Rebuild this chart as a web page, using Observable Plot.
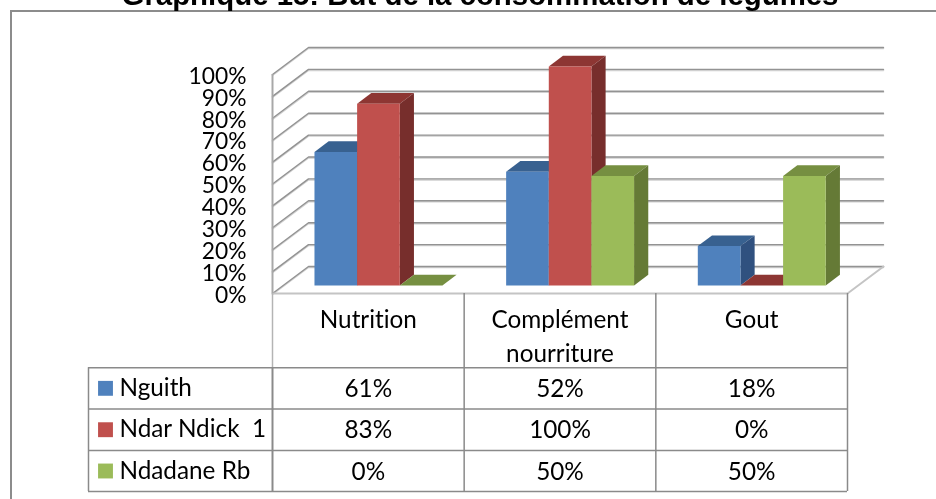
<!DOCTYPE html>
<html lang="fr">
<head>
<meta charset="utf-8">
<title>Graphique 15</title>
<script src="https://cdn.jsdelivr.net/npm/d3@7"></script>
<script src="https://cdn.jsdelivr.net/npm/@observablehq/plot@0.6"></script>
<style>
html,body{margin:0;padding:0;background:#fff;overflow:hidden;width:936px;height:499px}
#wrap{position:relative;width:936px;height:499px;overflow:hidden;filter:blur(.45px)}
#chart-title{position:absolute;left:0;width:960px;text-align:center;top:-21px;
  font:bold 29.4px/32px "Liberation Sans",Arial,sans-serif;color:#000;white-space:nowrap}
#frame{position:absolute;left:10px;top:10px;right:-4px;bottom:-4px;border-left:2px solid #8c8c8c;border-top:2px solid #8c8c8c}
svg{position:absolute;left:0;top:0;background:transparent!important}
svg text{white-space:pre;font-variant-ligatures:none}
</style>
</head>
<body>
<div id="wrap">
<div id="frame"></div>
<div id="chart-title">Graphique 15: But de la consommation de légumes</div>
</div>
<script>
const categories = ["Nutrition", "Complément\nnourriture", "Gout"];
const seriesNames = ["Nguith", "Ndar Ndick  1", "Ndadane Rb"];
const nguith = [61, 52, 18];
const ndarNdick = [83, 100, 0];
const ndadane = [0, 50, 50];
const yTicks = [0, 10, 20, 30, 40, 50, 60, 70, 80, 90, 100];
const frontColors = ["#4f81bd", "#c0504d", "#9bbb59"];
const topColors = ["#386190", "#8d3633", "#768f41"];
const sideColors = ["#30517f", "#772e2c", "#657a36"];

const seriesValues = [nguith, ndarNdick, ndadane];

// Oblique projection: depth 0 is the front of the floor, depth 1 the back wall.
const DX = 36 / 191.67, DY = 27 / 2.19;
const P = (x, v, d) => ({x: x + d * DX, y: v + d * DY});

const grid = [];
yTicks.forEach(v => {
  [[0, 0], [0, 1], [3, 1]].forEach(([x, d]) => grid.push({...P(x, v, d), id: v}));
});
const floorEdge = [[0, 0], [3, 0], [3, 1]].map(([x, d]) => P(x, 0, d));

const d0 = 0.296, d1 = 0.69, groupStart = 0.1634, barWidth = 0.2225;
const faces = [];
const face = (id, fill, pts) => pts.forEach(p => faces.push({...p, id, fill}));
categories.forEach((_, c) => {
  seriesValues.forEach((vals, s) => {
    const v = vals[c], a = c + groupStart + s * barWidth, b = a + barWidth;
    face(`t${c}${s}`, topColors[s], [P(a, v, d0), P(b, v, d0), P(b, v, d1), P(a, v, d1)]);
    if (v > 0) {
      face(`s${c}${s}`, sideColors[s], [P(b, 0, d0), P(b, v, d0), P(b, v, d1), P(b, 0, d1)]);
      face(`f${c}${s}`, frontColors[s], [P(a, 0, d0), P(b, 0, d0), P(b, v, d0), P(a, v, d0)]);
    }
  });
});

// Data table under the chart, in the same scale units.
const legendLeft = -0.96;
const rowEdges = [0, -33.9, -52.7, -71.7, -90.4];
const colEdges = [0, 1, 2, 3];
const rowMid = r => (rowEdges[r + 1] + rowEdges[r + 2]) / 2;
const cellData = seriesValues.flatMap((vals, r) => vals.map((v, c) => ({x: c + 0.5, y: rowMid(r), t: `${v}%`})));
const legendData = seriesNames.map((name, r) => ({name, y: rowMid(r), fill: frontColors[r]}));
const catData = categories.map((t, c) => ({x: c + 0.5, t}));

const font = "Lato, Carlito, sans-serif";
const gridColor = "#939393", tableColor = "#8a8a8a";

const chart = Plot.plot({
  width: 936, height: 499,
  marginLeft: 272, marginRight: 89, marginTop: 74, marginBottom: 206,
  x: {domain: [0, 3], range: [272, 847], axis: null},
  y: {domain: [0, 100], range: [293, 74], label: null},
  color: {type: "identity"},
  style: {background: "transparent", fontFamily: font, color: "#000"},
  marks: [
    // wall & floor shadows, then lines
    Plot.line(grid, {x: "x", y: "y", z: "id", stroke: "#d0d0d0", strokeWidth: 1.5, dy: 1, curve: "linear"}),
    Plot.line(grid, {x: "x", y: "y", z: "id", stroke: gridColor, strokeWidth: 1.4, curve: "linear"}),
    Plot.line(floorEdge, {x: "x", y: "y", stroke: "#c4c4c4", strokeWidth: 2, curve: "linear"}),
    Plot.ruleX([0], {y1: 0, y2: 100, stroke: "#a8a8a8", strokeWidth: 2}),
    // bars
    Plot.line(faces, {x: "x", y: "y", z: "id", fill: "fill", stroke: "none", curve: "linear"}),
    // table grid
    Plot.ruleX([0], {y1: 0, y2: rowEdges[1], stroke: "#b4b4b4", strokeWidth: 1.5}),
    Plot.ruleX(colEdges.slice(1), {y1: 0, y2: rowEdges[4], stroke: tableColor, strokeWidth: 1.5}),
    Plot.ruleX([0], {y1: rowEdges[1], y2: rowEdges[4], stroke: tableColor, strokeWidth: 2}),
    Plot.ruleX([legendLeft], {y1: rowEdges[1], y2: rowEdges[4], stroke: tableColor, strokeWidth: 1.5}),
    Plot.ruleY(rowEdges.slice(1), {x1: legendLeft, x2: 3, stroke: tableColor, strokeWidth: 1.5}),
    // table text
    Plot.text(catData, {x: "x", y: rowEdges[0], text: "t", dy: 11.5, lineAnchor: "top", lineHeight: 1.36, fontSize: 24.3, fill: "#000"}),
    Plot.text(cellData, {x: "x", y: "y", text: "t", fontSize: 24.3, fill: "#000", dy: 1}),
    Plot.dot(legendData, {x: legendLeft, y: "y", fill: "fill", symbol: "square", r: 8.4, dx: 17, stroke: "none"}),
    Plot.text(legendData, {x: legendLeft, y: "y", text: "name", textAnchor: "start", dx: 31, fontSize: 24.3, fill: "#000"}),
    Plot.axisY(yTicks, {anchor: "left", tickSize: 0, tickPadding: 26, tickFormat: d => `${d}%`, fontSize: 22.8, dy: 2, fill: "#000", label: null})
  ]
});
document.getElementById("wrap").appendChild(chart);
</script>
</body>
</html>
